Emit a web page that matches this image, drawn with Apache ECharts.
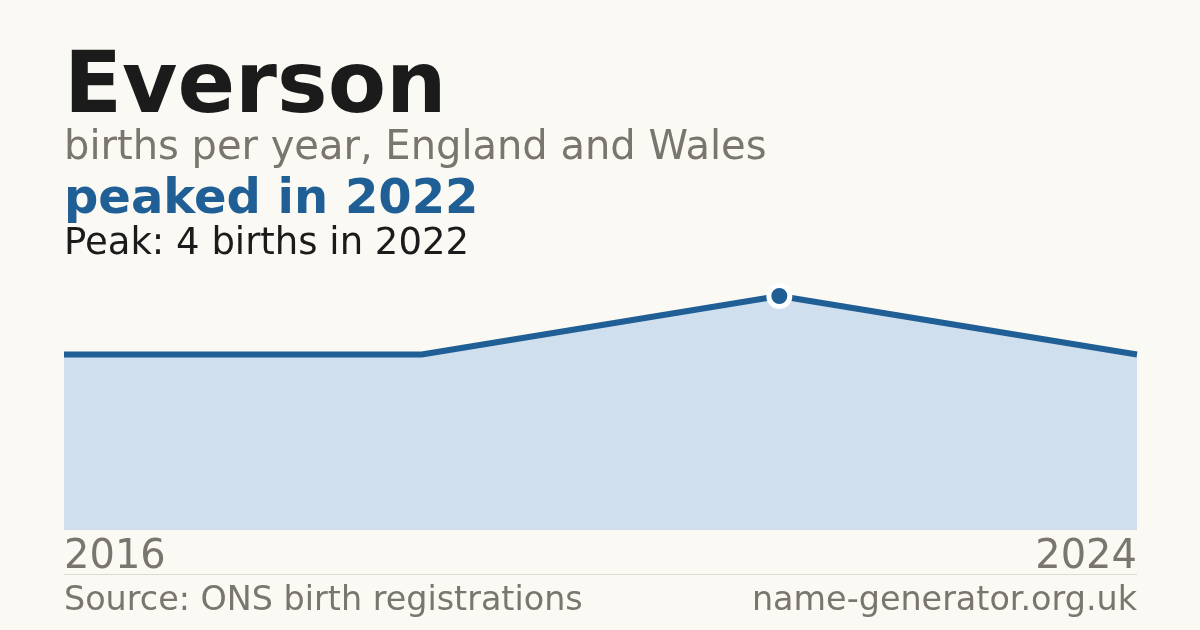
<!DOCTYPE html>
<html>
<head>
<meta charset="utf-8">
<title>Everson</title>
<script src="https://cdn.jsdelivr.net/npm/echarts@6/dist/echarts.min.js"></script>
<style>
  html, body { margin: 0; padding: 0; background: #faf9f4; }
  #chart { width: 1200px; height: 630px; }
</style>
</head>
<body>
<div id="chart"></div>
<script>
// data
const years = ['2016', '2019', '2022', '2024'];
const births = [3, 3, 4, 3];
const peakIndex = 2;

const font = 'DejaVu Sans';
const blue = '#1f5f95';
const grey = '#7a756e';

const chart = echarts.init(document.getElementById('chart'));

function label(text, pos, size, weight, color) {
  return Object.assign({
    text: text,
    padding: 0,
    textStyle: {fontFamily: font, fontSize: size, fontWeight: weight, color: color, lineHeight: size},
  }, pos);
}

chart.setOption({
  backgroundColor: '#faf9f4',
  animation: false,
  title: [
    label('Everson', {left: 64, top: 47}, 85, 'bold', '#1b1b1b'),
    label('births per year, England and Wales', {left: 64, top: 129}, 40, 'normal', grey),
    label('peaked in 2022', {left: 64, top: 177}, 48, 'bold', blue),
    label('Peak: 4 births in 2022', {left: 64, top: 226}, 37, 'normal', '#1b1b1b'),
    label('Source: ONS birth registrations', {left: 64, top: 585}, 33.4, 'normal', grey),
    label('name-generator.org.uk', {right: 63, top: 585}, 33.4, 'normal', grey),
  ],
  graphic: [
    {
      type: 'line',
      shape: {x1: 64, y1: 574.5, x2: 1137, y2: 574.5},
      style: {stroke: '#dcd9d2', lineWidth: 1},
    },
  ],
  grid: {left: 64, right: 63, top: 296, bottom: 100},
  xAxis: {
    type: 'category',
    data: years,
    boundaryGap: false,
    axisLine: {show: false},
    axisTick: {show: false},
    axisLabel: {
      interval: (i) => i === 0 || i === years.length - 1,
      alignMinLabel: 'left',
      alignMaxLabel: 'right',
      fontFamily: font,
      fontSize: 40,
      color: grey,
      margin: 8,
    },
  },
  yAxis: {
    type: 'value',
    min: 0,
    max: 4,
    show: false,
    splitLine: {show: false},
  },
  series: [
    {
      type: 'line',
      data: births.map((v, i) => ({
        value: v,
        symbol: i === peakIndex ? 'circle' : 'none',
        symbolSize: 21,
        itemStyle: {color: blue, borderColor: '#ffffff', borderWidth: 5},
      })),
      showSymbol: true,
      lineStyle: {color: blue, width: 6, cap: 'butt'},
      areaStyle: {color: '#cfdfee', opacity: 1},
      z: 3,
    },
  ],
});
</script>
</body>
</html>
